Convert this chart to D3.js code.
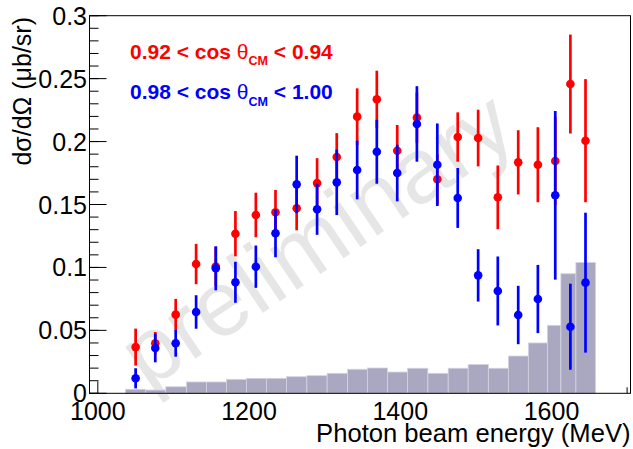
<!DOCTYPE html>
<meta charset="utf-8">
<script src="https://d3js.org/d3.v7.min.js"></script>
<style>
  body { margin: 0; background: #fff; }
  text { font-family: "Liberation Sans", Arial, sans-serif; }
</style>
<body>
<div id="chart"></div>
<script>

// photon energy of each point (MeV)
var energies = [1050, 1076, 1103, 1130, 1156, 1182, 1209, 1235, 1263, 1290, 1316, 1343,
                1369, 1396, 1422, 1449, 1476, 1503, 1529, 1556, 1582, 1605, 1625, 1645];

// 0.92 < cos < 0.94
var redVals = [0.0367, 0.0397, 0.0625, 0.1027, 0.1008, 0.1268, 0.1417, 0.1438, 0.1470, 0.1670, 0.1877, 0.2198,
               0.2336, 0.1927, 0.2190, 0.1700, 0.2036, 0.2028, 0.1557, 0.1835, 0.1816, 0.1846, 0.2457, 0.2007];
var redErrs = [0.0147, 0.0090, 0.0125, 0.0160, 0.0155, 0.0180, 0.0177, 0.0178, 0.0175, 0.0198, 0.0190, 0.0225,
               0.0227, 0.0205, 0.0200, 0.0200, 0.0196, 0.0225, 0.0253, 0.0255, 0.0298, 0.0350, 0.0393, 0.0489];

// 0.98 < cos < 1.00
var blueVals = [0.0119, 0.0360, 0.0397, 0.0646, 0.0993, 0.0882, 0.1006, 0.1271, 0.1660, 0.1462, 0.1676, 0.1774,
                0.1919, 0.1750, 0.2140, 0.1816, 0.1552, 0.0937, 0.0813, 0.0622, 0.0749, 0.1573, 0.0529, 0.0879];
var blueErrs = [0.0080, 0.0114, 0.0106, 0.0133, 0.0175, 0.0163, 0.0168, 0.0190, 0.0228, 0.0203, 0.0260, 0.0233,
                0.0254, 0.0225, 0.0300, 0.0328, 0.0238, 0.0208, 0.0274, 0.0232, 0.0271, 0.0670, 0.0342, 0.0556];

// grey histogram: bin edges (MeV) and contents
var histEdges = [1036.6, 1063.1, 1089.9, 1117.3, 1143.8, 1170.2, 1196.7, 1223.1, 1249.6, 1276.5, 1303.3, 1330.3,
                 1356.5, 1383.2, 1409.7, 1436.5, 1463.4, 1489.8, 1516.5, 1543.0, 1569.4, 1594.6, 1612.4, 1632.3, 1658.3];
var histVals = [0.0032, 0.0026, 0.0052, 0.0090, 0.0090, 0.0111, 0.0119, 0.0119, 0.0132, 0.0140, 0.0159, 0.0191,
                0.0201, 0.0169, 0.0199, 0.0159, 0.0199, 0.0229, 0.0199, 0.0296, 0.0400, 0.0540, 0.0950, 0.1039];

var xMajor = [1000, 1200, 1400, 1600];
var xMinor = [1100, 1300, 1500, 1700];
var yMajor = [0, 0.05, 0.1, 0.15, 0.2, 0.25, 0.3];
var yMinor = d3.range(0, 0.301, 0.01);

var W = 633, H = 449;
var frame = { left: 89.5, right: 630.5, top: 15.7, bottom: 393.3 };

var svg = d3.select("#chart")
  .append("svg")
  .attr("width", W)
  .attr("height", H);

var x = d3.scaleLinear()
  .domain([989, 1704.5])
  .range([frame.left, frame.right]);

var y = d3.scaleLinear()
  .domain([0, 0.3])
  .range([frame.bottom, frame.top]);

// watermark
svg.append("text")
  .attr("transform", "translate(316,238) rotate(-34)")
  .attr("text-anchor", "middle")
  .attr("dy", "0.35em")
  .style("font-size", "92px")
  .style("fill", "#e6e6e6")
  .text("preliminary");

// x ticks (inside, under the histogram)
svg.selectAll(".xmaj")
  .data(xMajor)
  .enter()
  .append("line")
  .attr("x1", function(d) { return x(d); })
  .attr("x2", function(d) { return x(d); })
  .attr("y1", frame.bottom)
  .attr("y2", frame.bottom - 12)
  .style("stroke", "#000");

svg.selectAll(".xmin")
  .data(xMinor)
  .enter()
  .append("line")
  .attr("x1", function(d) { return x(d); })
  .attr("x2", function(d) { return x(d); })
  .attr("y1", frame.bottom)
  .attr("y2", frame.bottom - 6)
  .style("stroke", "#000");

// histogram
svg.selectAll(".bin")
  .data(histVals)
  .enter()
  .append("rect")
  .attr("x", function(d, i) { return x(histEdges[i]); })
  .attr("width", function(d, i) { return x(histEdges[i + 1]) - x(histEdges[i]); })
  .attr("y", function(d) { return y(d); })
  .attr("height", function(d) { return y(0) - y(d); })
  .style("fill", "#aaa8c1")
  .style("stroke", "#d4d3e0")
  .style("stroke-width", 0.8);

// y ticks
svg.selectAll(".ymin")
  .data(yMinor)
  .enter()
  .append("line")
  .attr("x1", frame.left)
  .attr("x2", frame.left + 9)
  .attr("y1", function(d) { return y(d); })
  .attr("y2", function(d) { return y(d); })
  .style("stroke", "#000");

svg.selectAll(".ymaj")
  .data(yMajor)
  .enter()
  .append("line")
  .attr("x1", frame.left)
  .attr("x2", frame.left + 17)
  .attr("y1", function(d) { return y(d); })
  .attr("y2", function(d) { return y(d); })
  .style("stroke", "#000");

// frame
svg.append("rect")
  .attr("x", frame.left)
  .attr("y", frame.top)
  .attr("width", frame.right - frame.left)
  .attr("height", frame.bottom - frame.top)
  .style("fill", "none")
  .style("stroke", "#000")
  .style("stroke-width", 1);

// tick labels
svg.selectAll(".ylab")
  .data(yMajor)
  .enter()
  .append("text")
  .attr("x", frame.left - 2.5)
  .attr("y", function(d) { return y(d); })
  .attr("dy", "0.36em")
  .attr("text-anchor", "end")
  .style("font-size", "25px")
  .text(function(d) { return d3.format("")(+d.toFixed(2)); });

svg.selectAll(".xlab")
  .data(xMajor)
  .enter()
  .append("text")
  .attr("x", function(d) { return x(d); })
  .attr("y", 420)
  .attr("text-anchor", "middle")
  .style("font-size", "25px")
  .text(function(d) { return d; });

// axis titles
svg.append("text")
  .attr("x", frame.right)
  .attr("y", 442)
  .attr("text-anchor", "end")
  .style("font-size", "25.6px")
  .text("Photon beam energy (MeV)");

svg.append("text")
  .attr("transform", "translate(31,17) rotate(-90)")
  .attr("text-anchor", "end")
  .style("font-size", "25px")
  .text("dσ/dΩ (μb/sr)");

// data points with error bars
function drawSeries(vals, errs, color) {
  var g = svg.append("g");
  g.selectAll("line")
    .data(vals)
    .enter()
    .append("line")
    .attr("x1", function(d, i) { return x(energies[i]); })
    .attr("x2", function(d, i) { return x(energies[i]); })
    .attr("y1", function(d, i) { return y(d - errs[i]); })
    .attr("y2", function(d, i) { return y(d + errs[i]); })
    .style("stroke", color)
    .style("stroke-width", 2.7);
  g.selectAll("circle")
    .data(vals)
    .enter()
    .append("circle")
    .attr("cx", function(d, i) { return x(energies[i]); })
    .attr("cy", function(d) { return y(d); })
    .attr("r", 4.3)
    .style("fill", color);
}
drawSeries(redVals, redErrs, "#ff0000");
drawSeries(blueVals, blueErrs, "#0000ff");

// legend text
function legendLine(yPos, color, lo, hi) {
  var t = svg.append("text")
    .attr("x", 130)
    .attr("y", yPos)
    .style("fill", color)
    .style("font-size", "21px")
    .style("font-weight", "bold");
  t.append("tspan").text(lo + " < cos ");
  t.append("tspan").style("font-weight", "normal").text("θ");
  t.append("tspan").attr("dy", 6.5).style("font-size", "12.5px").text("CM");
  t.append("tspan").attr("dy", -6.5).text(" < " + hi);
}
legendLine(58.5, "#ff0000", "0.92", "0.94");
legendLine(99, "#0000ff", "0.98", "1.00");

</script>
</body>
